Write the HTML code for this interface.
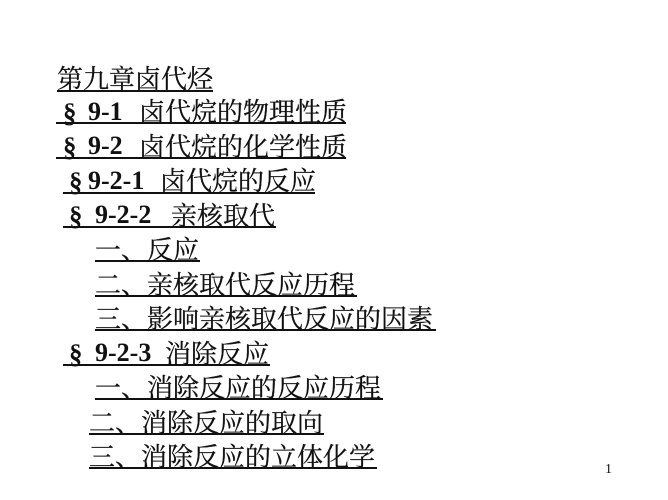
<!DOCTYPE html>
<html><head><meta charset="utf-8"><style>
html,body{margin:0;padding:0;background:#fff}
#p{position:relative;width:668px;height:500px;overflow:hidden;background:#fff}
.t,.b,.u,.n,.s{position:absolute;white-space:pre;line-height:30px;height:30px;color:#111}
.t{font:26px/30px "Noto Serif CJK SC","Liberation Serif",serif;-webkit-text-stroke:0.25px #111}
.b{font:bold 26px/30px "Liberation Serif",serif}
.s{font:bold 27px/30px "Liberation Serif",serif}
.u{height:1.5px;background:#111}
.n{font:14px/16px "Liberation Serif",serif}
</style></head><body><div id="p">
<div class="t" style="left:57px;top:63px">第九章卤代烃</div><div class="u" style="left:57px;top:90px;width:156px"></div>
<div class="s" style="left:63px;top:98px">§</div><div class="b" style="left:88px;top:97px">9-1</div><div class="t" style="left:139px;top:96px">卤代烷的物理性质</div><div class="u" style="left:56px;top:122px;width:290px"></div>
<div class="s" style="left:63px;top:132px">§</div><div class="b" style="left:88px;top:131px">9-2</div><div class="t" style="left:139px;top:131px">卤代烷的化学性质</div><div class="u" style="left:56px;top:157px;width:290px"></div>
<div class="s" style="left:69px;top:167px">§</div><div class="b" style="left:88px;top:166px">9-2-1</div><div class="t" style="left:160px;top:165px">卤代烷的反应</div><div class="u" style="left:63px;top:192px;width:252px"></div>
<div class="s" style="left:69px;top:201px">§</div><div class="b" style="left:95px;top:200px">9-2-2</div><div class="t" style="left:171px;top:200px">亲核取代</div><div class="u" style="left:63px;top:226px;width:213px"></div>
<div class="t" style="left:95px;top:234px">一、反应</div><div class="u" style="left:95px;top:260px;width:105px;height:2px"></div>
<div class="t" style="left:95px;top:269px">二、亲核取代反应历程</div><div class="u" style="left:95px;top:295px;width:262px"></div>
<div class="t" style="left:95px;top:303px">三、影响亲核取代反应的因素</div><div class="u" style="left:95px;top:329px;width:341px"></div>
<div class="s" style="left:69px;top:339px">§</div><div class="b" style="left:95px;top:338px">9-2-3</div><div class="t" style="left:165px;top:338px">消除反应</div><div class="u" style="left:63px;top:364px;width:207px"></div>
<div class="t" style="left:95px;top:372px">一、消除反应的反应历程</div><div class="u" style="left:95px;top:398px;width:288px"></div>
<div class="t" style="left:89px;top:407px">二、消除反应的取向</div><div class="u" style="left:89px;top:433px;width:235px"></div>
<div class="t" style="left:89px;top:441px">三、消除反应的立体化学</div><div class="u" style="left:89px;top:467px;width:288px"></div>
<div class="n" style="left:605px;top:462px">1</div>
</div></body></html>
